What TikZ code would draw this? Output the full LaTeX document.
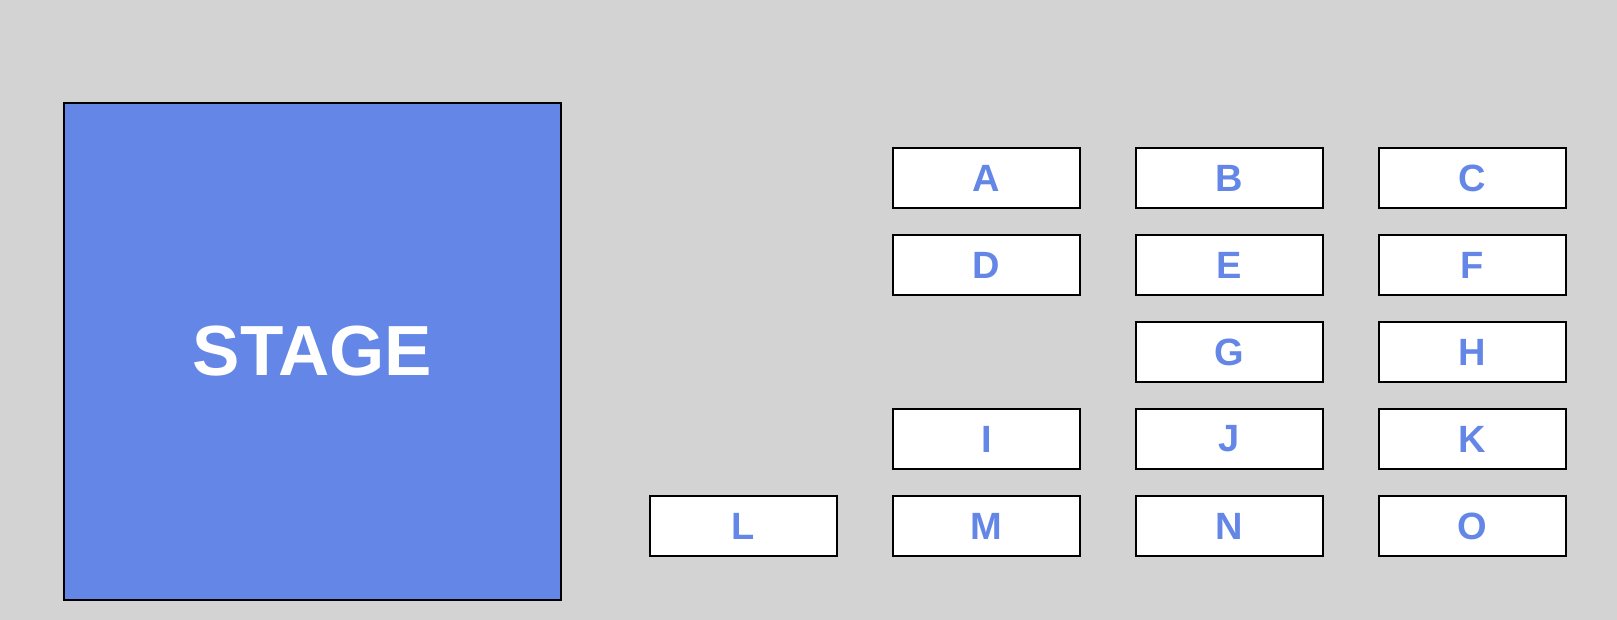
\documentclass[tikz,border=0pt]{standalone}
\usepackage{fontspec}
\setmainfont{Liberation Sans}
\definecolor{bg}{HTML}{D3D3D3}
\definecolor{stageblue}{HTML}{6487E7}
\begin{document}
\begin{tikzpicture}[x=1pt,y=-1pt,
  seat/.style={draw=black,line width=2pt,fill=white,minimum width=187pt,minimum height=60pt,inner sep=0pt,
    font=\fontsize{38}{38}\selectfont\bfseries,text=stageblue,anchor=north west},
  stagebox/.style={draw=black,line width=2pt,fill=stageblue,minimum width=497pt,minimum height=497pt,inner sep=0pt,
    font=\fontsize{71}{71}\selectfont\bfseries,text=white,anchor=north west}]
\useasboundingbox[fill=bg] (0,0) rectangle (1617,620);
\node[stagebox] (stage) at (63,102) {STAGE};
\node[seat] (A) at (892,147) {A};
\node[seat] (B) at (1135,147) {B};
\node[seat] (C) at (1378,147) {C};
\node[seat] (D) at (892,234) {D};
\node[seat] (E) at (1135,234) {E};
\node[seat] (F) at (1378,234) {F};
\node[seat] (G) at (1135,321) {G};
\node[seat] (H) at (1378,321) {H};
\node[seat] (I) at (892,408) {I};
\node[seat] (J) at (1135,408) {J};
\node[seat] (K) at (1378,408) {K};
\node[seat] (L) at (649,495) {L};
\node[seat] (M) at (892,495) {M};
\node[seat] (N) at (1135,495) {N};
\node[seat] (O) at (1378,495) {O};
\end{tikzpicture}
\end{document}
